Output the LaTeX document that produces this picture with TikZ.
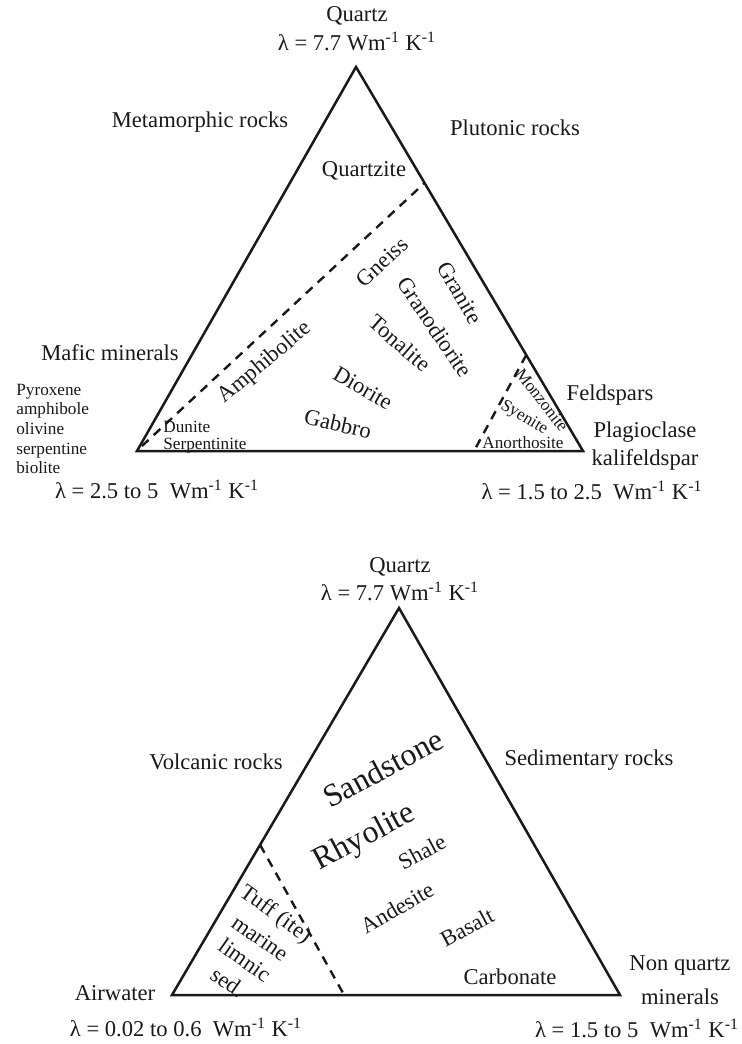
\documentclass[tikz,border=0pt]{standalone}
\usepackage{fontspec}
\setmainfont{Liberation Serif}
\usepackage{tikz}
\usetikzlibrary{positioning, calc}
\definecolor{mydark}{RGB}{25,25,25}
\tikzset{
  lbl/.style={font=\fontsize{11.3}{13}\selectfont, inner sep=0pt, color=mydark},
  smalllbl/.style={font=\fontsize{8.6}{9.8}\selectfont, inner sep=0pt, color=mydark},
  biglbl/.style={font=\fontsize{16}{18}\selectfont, inner sep=0pt, color=mydark},
  triside/.style={line width=1.25pt, line join=miter, color=mydark},
  divider/.style={line width=1.2pt, dash pattern=on 4.5pt off 3.5pt, color=mydark}
}
\newcommand{\wmk}{Wm\textsuperscript{-1} K\textsuperscript{-1}}

\begin{document}
\begin{tikzpicture}[x=0.5pt, y=-0.5pt]
  \useasboundingbox (0,0) rectangle (741,1044);

  % upper diagram: metamorphic and plutonic rocks
  \coordinate (qa) at (356,67);
  \coordinate (qb) at (137,451);
  \coordinate (qc) at (583,451);
  \draw[triside] (qa) -- (qb) -- (qc) -- cycle;
  \coordinate (m1) at (142,446);
  \coordinate (m2) at ($(qa)!0.302!(qc)$);
  \coordinate (f1) at ($(qa)!0.75!(qc)$);
  \coordinate (f2) at (474,451);
  \draw[divider] (m1) -- (m2);
  \draw[divider] (f1) -- (f2);

  \node[lbl] (qtz) at (357,16) {Quartz};
  \node[lbl] (qtzl) at (357,41) {λ = 7.7 \wmk};
  \node[lbl] (meta) at (200,122) {Metamorphic rocks};
  \node[lbl] (plut) at (515,128) {Plutonic rocks};
  \node[lbl] (qzite) at (364,171) {Quartzite};
  \node[lbl, rotate=43] (gneiss) at (382,262) {Gneiss};
  \node[lbl, rotate=40] (amph) at (265,363) {Amphibolite};
  \node[lbl, rotate=-60] (gran) at (460,293) {Granite};
  \node[lbl, rotate=-56] (grdio) at (435,327) {Granodiorite};
  \node[lbl, rotate=-41] (tonal) at (400,343) {Tonalite};
  \node[lbl, rotate=-30] (dio) at (363,388) {Diorite};
  \node[lbl, rotate=-13] (gab) at (338,424) {Gabbro};
  \node[smalllbl, anchor=west] (dun) at (163,427) {Dunite};
  \node[smalllbl, anchor=west] (serp) at (163,446) {Serpentinite};
  \node[smalllbl, rotate=-52] (monz) at (542,400) {Monzonite};
  \node[smalllbl, rotate=-31] (sye) at (524,418) {Syenite};
  \node[smalllbl] (anor) at (523,443) {Anorthosite};
  \node[lbl] (mafic) at (110,353) {Mafic minerals};
  \node[smalllbl, align=left, anchor=west] (maflist) at (16,429)
    {Pyroxene\\amphibole\\olivine\\serpentine\\biolite};
  \node[lbl] (mafl) at (157,489) {λ = 2.5 to 5~ \wmk};
  \node[lbl] (feld) at (610,395) {Feldspars};
  \node[lbl, align=center, font=\fontsize{11.3}{14}\selectfont] (plag) at (645,446)
    {Plagioclase\\kalifeldspar};
  \node[lbl] (feldl) at (592,490) {λ = 1.5 to 2.5~ \wmk};

  % lower diagram: volcanic and sedimentary rocks
  \coordinate (sa) at (399,608);
  \coordinate (sb) at (172,995);
  \coordinate (sc) at (620,995);
  \draw[triside] (sa) -- (sb) -- (sc) -- cycle;
  \coordinate (t1) at ($(sa)!0.612!(sb)$);
  \coordinate (t2) at (343,993);
  \draw[divider] (t1) -- (t2);

  \node[lbl] (qtz2) at (400,567) {Quartz};
  \node[lbl] (qtz2l) at (400,591) {λ = 7.7 \wmk};
  \node[lbl] (volc) at (216,762) {Volcanic rocks};
  \node[lbl] (sedi) at (589,760) {Sedimentary rocks};
  \node[biglbl, rotate=28] (sand) at (383,768) {Sandstone};
  \node[biglbl, rotate=28] (rhyo) at (365,838) {Rhyolite};
  \node[lbl, rotate=28] (shale) at (422,852) {Shale};
  \node[lbl, rotate=30] (ande) at (397,908) {Andesite};
  \node[lbl, rotate=28] (basa) at (467,927) {Basalt};
  \node[lbl] (carb) at (510,977) {Carbonate};
  \node[lbl, rotate=-36] (tuff) at (275,915) {Tuff (ite)};
  \node[lbl, rotate=-35] (mari) at (260,938) {marine};
  \node[lbl, rotate=-35] (limn) at (245,960) {limnic};
  \node[lbl, rotate=-35] (sed) at (228,982) {sed.};
  \node[lbl] (air) at (115,993) {Airwater};
  \node[lbl] (airl) at (186,1027) {λ = 0.02 to 0.6~ \wmk};
  \node[lbl, align=center, font=\fontsize{11.3}{17}\selectfont] (nonq) at (680,980)
    {Non quartz\\minerals};
  \node[lbl] (nonql) at (637,1028) {λ = 1.5 to 5~ \wmk};
\end{tikzpicture}
\end{document}
